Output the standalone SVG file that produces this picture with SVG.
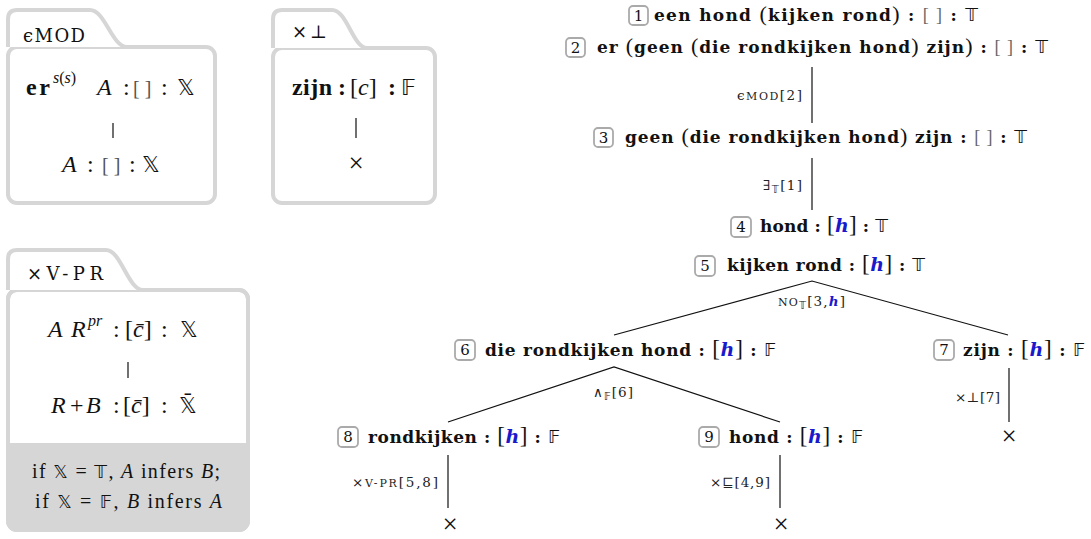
<svg xmlns="http://www.w3.org/2000/svg" width="1091" height="539" viewBox="0 0 1091 539">
<style>
text{font-family:"Liberation Serif","DejaVu Serif",serif;fill:#111}
.nt{font-family:"DejaVu Serif",serif;font-size:17px}
.b{font-weight:bold}
.par{font-family:"Liberation Serif",serif;font-size:22px;font-weight:normal}
.gr{font-family:"Liberation Serif",serif;fill:#666;font-weight:normal;font-size:18px}
.bb{font-family:"DejaVu Sans",sans-serif;font-weight:normal;font-size:18px;fill:#111}
.hb{font-family:"Liberation Serif",serif;font-size:23px;font-weight:normal}
.h{font-family:"DejaVu Serif",serif;fill:#1a1acc;font-weight:bold;font-style:italic;font-size:19px}
.num{font-family:"DejaVu Serif",serif;font-size:15px;text-anchor:middle}
.box{fill:#fff;stroke:#aaa;stroke-width:1.8}
.lbl{font-family:"DejaVu Serif",serif;font-size:13.5px;fill:#222}
.sc{font-size:11px}
.sub{font-size:10px}
.edge{stroke:#111;stroke-width:1.2;fill:none}
.pan{fill:#fff;stroke:#d6d6d6;stroke-width:4}
.ptl{font-family:"DejaVu Serif",serif;font-size:18px}
.m{font-size:24px}
.i{font-style:italic}
.g{fill:#555;font-size:20px}
.mb{font-family:"DejaVu Sans",sans-serif;font-size:22px}
.x{font-family:"Liberation Serif",serif;font-size:27px;text-anchor:middle}
</style>

<g id="panel-emod">
<rect class="pan" x="8" y="47" width="207" height="156" rx="9"/>
<path class="pan" d="M8,47 V19 Q8,10 17,10 H90 C105,10 112,47 127,47"/>
<text class="ptl" x="23" y="42" textLength="62">ϵMOD</text>
<text class="m" y="95"><tspan class="b" x="26" textLength="24">er</tspan><tspan class="i" font-size="16" x="53" y="83">s</tspan><tspan font-size="16">(</tspan><tspan class="i" font-size="16">s</tspan><tspan font-size="16">)</tspan><tspan class="i" x="97" y="95">A</tspan><tspan x="123">:</tspan><tspan class="g" x="133">[ ]</tspan><tspan x="161">:</tspan><tspan class="mb" x="177">𝕏</tspan></text>
<line class="edge" x1="113" y1="123" x2="113" y2="138"/>
<text class="m" y="172"><tspan class="i" x="62">A</tspan><tspan x="87">:</tspan><tspan class="g" x="102">[ ]</tspan><tspan x="129">:</tspan><tspan class="mb" x="142">𝕏</tspan></text>
</g>

<g id="panel-xbot">
<rect class="pan" x="273" y="48" width="162" height="155" rx="9"/>
<path class="pan" d="M273,48 V19 Q273,10 282,10 H332 C347,10 353,48 367,48"/>
<text class="ptl" x="292" y="38" textLength="35">×⊥</text>
<text class="m" y="95"><tspan class="b" x="292" textLength="40">zijn</tspan><tspan class="b" x="338">:</tspan><tspan x="350">[</tspan><tspan class="i">c</tspan><tspan>]</tspan><tspan class="b" x="388">:</tspan><tspan class="mb" x="401">𝔽</tspan></text>
<line class="edge" x1="356" y1="118" x2="356" y2="138"/>
<text class="x" x="356" y="172">×</text>
</g>

<g id="panel-xvpr">
<rect class="pan" x="8" y="290" width="240" height="240" rx="9"/>
<path d="M8,443 H248 V521 Q248,530 239,530 H17 Q8,530 8,521 Z" fill="#d6d6d6"/>
<rect x="8" y="290" width="240" height="240" rx="9" style="fill:none;stroke:#d6d6d6;stroke-width:4"/>
<path class="pan" d="M8,290 V259 Q8,250 17,250 H106 C121,250 128,290 143,290"/>
<text class="ptl" x="27" y="280" font-size="19" textLength="76">×V-PR</text>
<text class="m" y="337"><tspan class="i" x="48">A</tspan><tspan class="i" x="71">R</tspan><tspan class="i" font-size="16" x="88" y="326">pr</tspan><tspan x="113" y="337">:</tspan><tspan x="125">[</tspan><tspan class="i">c̄</tspan><tspan>]</tspan><tspan x="161">:</tspan><tspan class="mb" x="180">𝕏</tspan></text>
<line class="edge" x1="128" y1="362" x2="128" y2="378"/>
<text class="m" y="413"><tspan class="i" x="51">R</tspan><tspan x="70">+</tspan><tspan class="i" x="86">B</tspan><tspan x="113">:</tspan><tspan x="123">[</tspan><tspan class="i">c̄</tspan><tspan>]</tspan><tspan x="161">:</tspan><tspan class="mb" x="179">𝕏̄</tspan></text>
<text x="32" y="478" font-size="20" textLength="188">if <tspan class="bb" font-size="18">𝕏</tspan> = <tspan class="bb" font-size="18">𝕋</tspan>, <tspan class="i">A</tspan> infers <tspan class="i">B</tspan>;</text>
<text x="35" y="508" font-size="20" textLength="187">if <tspan class="bb" font-size="18">𝕏</tspan> = <tspan class="bb" font-size="18">𝔽</tspan>, <tspan class="i">B</tspan> infers <tspan class="i">A</tspan></text>
</g>

<g id="connectors">
<line class="edge" x1="812" y1="67" x2="812" y2="123"/>
<line class="edge" x1="812" y1="158" x2="812" y2="210"/>
<polyline class="edge" points="614,335 812,281 1008,335"/>
<polyline class="edge" points="448,422 614,367 780,422"/>
<line class="edge" x1="1009" y1="368" x2="1009" y2="422"/>
<line class="edge" x1="448" y1="455" x2="448" y2="508"/>
<line class="edge" x1="780" y1="455" x2="780" y2="508"/>
<text class="lbl" x="737" y="100" textLength="65">ϵ<tspan class="sc">MOD</tspan>[2]</text>
<text class="lbl" x="763" y="190" textLength="39">∃<tspan class="bb sub" dy="3">𝕋</tspan><tspan dy="-3">[1]</tspan></text>
<text class="lbl" x="778" y="306" textLength="67"><tspan class="sc">NO</tspan><tspan class="bb sub" dy="3">𝕋</tspan><tspan dy="-3">[3,</tspan><tspan fill="#1a1acc" font-weight="bold" font-style="italic">h</tspan>]</text>
<text class="lbl" x="593" y="397" textLength="40">∧<tspan class="bb sub" dy="3">𝔽</tspan><tspan dy="-3">[6]</tspan></text>
<text class="lbl" x="955" y="402" textLength="45">×⊥[7]</text>
<text class="lbl" x="352" y="487" textLength="86">×<tspan class="sc">V-PR</tspan>[5,8]</text>
<text class="lbl" x="710" y="487" textLength="60">×⊑[4,9]</text>
<text class="x" x="1009" y="445">×</text>
<text class="x" x="450" y="533">×</text>
<text class="x" x="781" y="533">×</text>
</g>

<g id="n1">
<rect class="box" x="629" y="6" width="19" height="19" rx="4"/>
<text class="num" x="638.5" y="21">1</text>
<text class="nt" x="654" y="21" textLength="324"><tspan class="b">een hond </tspan><tspan class="par">(</tspan><tspan class="b">kijken rond</tspan><tspan class="par">)</tspan><tspan class="b"> : </tspan><tspan class="gr">[ ]</tspan><tspan class="b"> : </tspan><tspan class="bb">𝕋</tspan></text>
</g>
<g id="n2">
<rect class="box" x="566" y="38" width="19" height="19" rx="4"/>
<text class="num" x="575.5" y="53">2</text>
<text class="nt" x="597" y="53" textLength="451"><tspan class="b">er </tspan><tspan class="par">(</tspan><tspan class="b">geen </tspan><tspan class="par">(</tspan><tspan class="b">die rondkijken hond</tspan><tspan class="par">)</tspan><tspan class="b"> zijn</tspan><tspan class="par">)</tspan><tspan class="b"> : </tspan><tspan class="gr">[ ]</tspan><tspan class="b"> : </tspan><tspan class="bb">𝕋</tspan></text>
</g>
<g id="n3">
<rect class="box" x="594" y="128" width="19" height="19" rx="4"/>
<text class="num" x="603.5" y="143">3</text>
<text class="nt" x="625" y="143" textLength="402"><tspan class="b">geen </tspan><tspan class="par">(</tspan><tspan class="b">die rondkijken hond</tspan><tspan class="par">)</tspan><tspan class="b"> zijn : </tspan><tspan class="gr">[ ]</tspan><tspan class="b"> : </tspan><tspan class="bb">𝕋</tspan></text>
</g>
<g id="n4">
<rect class="box" x="731" y="217" width="20" height="20" rx="4"/>
<text class="num" x="741" y="232">4</text>
<text class="nt" x="760" y="232" textLength="128"><tspan class="b">hond : </tspan><tspan class="hb">[</tspan><tspan class="h">h</tspan><tspan class="hb">]</tspan><tspan class="b"> : </tspan><tspan class="bb">𝕋</tspan></text>
</g>
<g id="n5">
<rect class="box" x="695" y="256" width="20" height="20" rx="4"/>
<text class="num" x="705" y="271">5</text>
<text class="nt" x="727" y="271" textLength="198"><tspan class="b">kijken rond : </tspan><tspan class="hb">[</tspan><tspan class="h">h</tspan><tspan class="hb">]</tspan><tspan class="b"> : </tspan><tspan class="bb">𝕋</tspan></text>
</g>
<g id="n6">
<rect class="box" x="455" y="340" width="20" height="20" rx="4"/>
<text class="num" x="465" y="355">6</text>
<text class="nt" x="485" y="356" textLength="291"><tspan class="b">die rondkijken hond : </tspan><tspan class="hb">[</tspan><tspan class="h">h</tspan><tspan class="hb">]</tspan><tspan class="b"> : </tspan><tspan class="bb">𝔽</tspan></text>
</g>
<g id="n7">
<rect class="box" x="934" y="340" width="20" height="20" rx="4"/>
<text class="num" x="944" y="355">7</text>
<text class="nt" x="963" y="356" textLength="122"><tspan class="b">zijn : </tspan><tspan class="hb">[</tspan><tspan class="h">h</tspan><tspan class="hb">]</tspan><tspan class="b"> : </tspan><tspan class="bb">𝔽</tspan></text>
</g>
<g id="n8">
<rect class="box" x="338" y="427" width="20" height="20" rx="4"/>
<text class="num" x="348" y="442">8</text>
<text class="nt" x="368" y="443" textLength="192"><tspan class="b">rondkijken : </tspan><tspan class="hb">[</tspan><tspan class="h">h</tspan><tspan class="hb">]</tspan><tspan class="b"> : </tspan><tspan class="bb">𝔽</tspan></text>
</g>
<g id="n9">
<rect class="box" x="699" y="427" width="20" height="20" rx="4"/>
<text class="num" x="709" y="442">9</text>
<text class="nt" x="729" y="443" textLength="134"><tspan class="b">hond : </tspan><tspan class="hb">[</tspan><tspan class="h">h</tspan><tspan class="hb">]</tspan><tspan class="b"> : </tspan><tspan class="bb">𝔽</tspan></text>
</g>
</svg>
